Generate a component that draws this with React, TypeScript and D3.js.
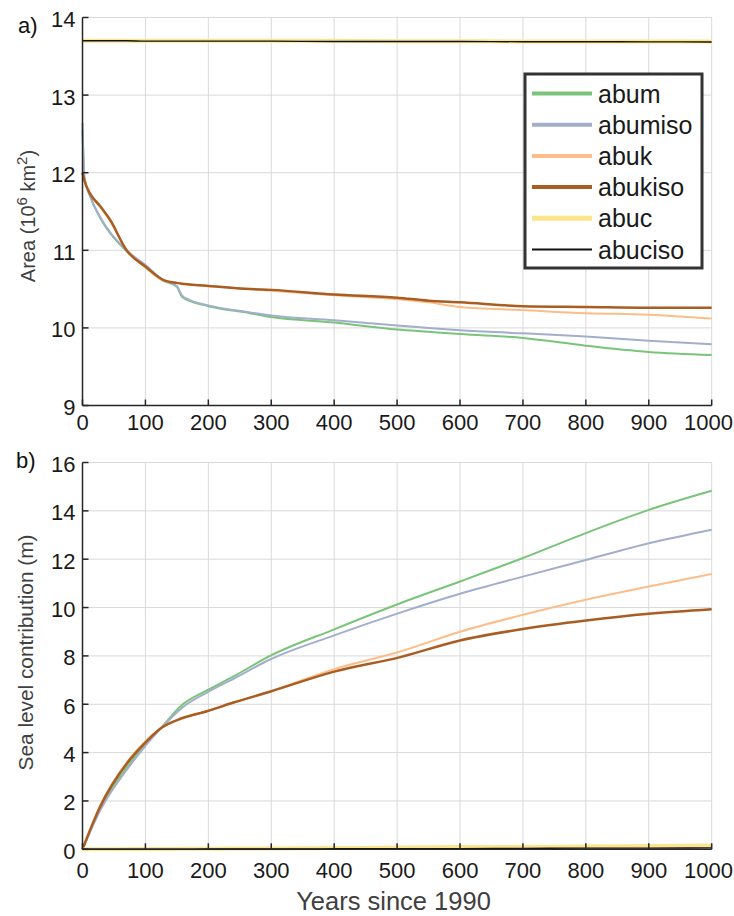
import React from "react";
import * as d3 from "d3";

const seriesNames = ["abum", "abumiso", "abuk", "abukiso", "abuc", "abuciso"];
const seriesColors = ["#7ac47a", "#a3aecb", "#fdbd88", "#a95d22", "#fde58c", "#111111"];
const seriesWidths = [2, 2, 2, 2.5, 4, 1.4];
const legendWidths = [4, 4, 4, 4, 5, 2];

const areaYears = [0, 3, 12, 28, 44, 70, 100, 128, 150, 158, 170, 200, 266, 300, 400, 500, 550, 600, 700, 800, 900, 1000];
const areaAbum = [12.55, 11.95, 11.7, 11.42, 11.22, 10.99, 10.8, 10.61, 10.53, 10.4, 10.35, 10.28, 10.19, 10.14, 10.07, 9.98, 9.95, 9.92, 9.87, 9.77, 9.69, 9.65];
const areaAbumiso = [12.64, 11.95, 11.7, 11.43, 11.23, 11.0, 10.81, 10.62, 10.54, 10.42, 10.36, 10.29, 10.2, 10.16, 10.1, 10.03, 10.0, 9.97, 9.93, 9.89, 9.835, 9.79];
const areaAbuk = [12.0, 11.9, 11.74, 11.56, 11.38, 11.01, 10.78, 10.61, 10.58, 10.57, 10.56, 10.54, 10.5, 10.48, 10.42, 10.37, 10.33, 10.27, 10.23, 10.19, 10.17, 10.12];
const areaAbukiso = [12.0, 11.9, 11.73, 11.57, 11.39, 11.0, 10.79, 10.62, 10.58, 10.57, 10.56, 10.54, 10.5, 10.49, 10.43, 10.39, 10.35, 10.33, 10.28, 10.27, 10.26, 10.26];
const areaAbuc = [13.7, 13.7, 13.7, 13.7, 13.7, 13.7, 13.7, 13.7, 13.7, 13.7, 13.7, 13.7, 13.7, 13.7, 13.7, 13.695, 13.695, 13.695, 13.69, 13.69, 13.69, 13.69];
const areaAbuciso = [13.7, 13.7, 13.7, 13.7, 13.7, 13.7, 13.695, 13.695, 13.695, 13.695, 13.695, 13.695, 13.695, 13.695, 13.69, 13.69, 13.69, 13.69, 13.688, 13.688, 13.686, 13.685];

const slYears = [0, 28, 75, 99, 123, 158, 199, 240, 298, 400, 505, 600, 700, 800, 900, 1000];
const slAbum = [0, 1.7, 3.55, 4.35, 4.98, 5.97, 6.59, 7.15, 8.0, 9.1, 10.18, 11.08, 12.05, 13.08, 14.04, 14.83];
const slAbumiso = [0, 1.6, 3.45, 4.25, 4.95, 5.85, 6.5, 7.05, 7.85, 8.85, 9.79, 10.57, 11.28, 11.97, 12.66, 13.22];
const slAbuk = [0, 1.8, 3.75, 4.45, 4.98, 5.42, 5.72, 6.07, 6.53, 7.45, 8.18, 9.0, 9.7, 10.32, 10.87, 11.39];
const slAbukiso = [0, 1.76, 3.7, 4.39, 4.98, 5.42, 5.72, 6.07, 6.52, 7.35, 7.95, 8.64, 9.11, 9.46, 9.74, 9.93];
const slAbuc = [0, 0, 0.01, 0.01, 0.01, 0.02, 0.02, 0.03, 0.03, 0.05, 0.07, 0.09, 0.1, 0.12, 0.14, 0.16];
const slAbuciso = [0, 0, 0, 0, 0, 0, 0.01, 0.01, 0.01, 0.02, 0.03, 0.03, 0.04, 0.05, 0.05, 0.06];

const xTicks = [0, 100, 200, 300, 400, 500, 600, 700, 800, 900, 1000];
const areaTicks = [9, 10, 11, 12, 13, 14];
const slTicks = [0, 2, 4, 6, 8, 10, 12, 14, 16];

const FONT = "Liberation Sans, Arial, Helvetica, sans-serif";

type PanelProps = {
  top: number;
  bottom: number;
  yDomain: [number, number];
  yTicks: number[];
  years: number[];
  values: number[][];
  tickBaseline: number;
};

const LEFT = 82.5;
const RIGHT = 711.7;
const SVG_W = 734;

function Panel({ top, bottom, yDomain, yTicks, years, values, tickBaseline }: PanelProps) {
  const x = d3.scaleLinear().domain([0, 1000]).range([LEFT, RIGHT]);
  const y = d3.scaleLinear().domain(yDomain).range([bottom, top]);
  const line = d3
    .line<number>()
    .x((_, i) => x(years[i]))
    .y((v) => y(v))
    .curve(d3.curveMonotoneX);
  return (
    <g>
      {xTicks.map((t) => (
        <line key={"gx" + t} x1={x(t)} x2={x(t)} y1={top} y2={bottom} stroke="#d9d9d9" strokeWidth={1} />
      ))}
      {yTicks.map((t) => (
        <line key={"gy" + t} x1={LEFT} x2={RIGHT} y1={y(t)} y2={y(t)} stroke="#d9d9d9" strokeWidth={1} />
      ))}
      {values.map((vals, i) => (
        <path
          key={"s" + i}
          d={line(vals) || ""}
          fill="none"
          stroke={seriesColors[i]}
          strokeWidth={seriesWidths[i]}
          strokeLinejoin="round"
        />
      ))}
      <line x1={LEFT} x2={LEFT} y1={top} y2={bottom} stroke="#262626" strokeWidth={1.5} />
      <line x1={LEFT} x2={RIGHT} y1={bottom} y2={bottom} stroke="#262626" strokeWidth={1.5} />
      {yTicks.map((t) => (
        <g key={"ty" + t}>
          <line x1={LEFT} x2={LEFT + 6} y1={y(t)} y2={y(t)} stroke="#262626" strokeWidth={1.5} />
          <text x={75.5} y={y(t) + 9.5} textAnchor="end" fontSize={22} fill="#1a1a1a" fontFamily={FONT}>
            {t}
          </text>
        </g>
      ))}
      {xTicks.map((t, i) => {
        const last = i === xTicks.length - 1;
        return (
          <g key={"tx" + t}>
            <line x1={x(t)} x2={x(t)} y1={bottom} y2={bottom - 6} stroke="#262626" strokeWidth={1.5} />
            <text
              x={last ? SVG_W - 1 : x(t)}
              y={tickBaseline}
              textAnchor={last ? "end" : "middle"}
              fontSize={22}
              fill="#1a1a1a"
              fontFamily={FONT}
            >
              {t}
            </text>
          </g>
        );
      })}
    </g>
  );
}

export default function App() {
  const areaValues = [areaAbum, areaAbumiso, areaAbuk, areaAbukiso, areaAbuc, areaAbuciso];
  const slValues = [slAbum, slAbumiso, slAbuk, slAbukiso, slAbuc, slAbuciso];
  const legX = 525;
  const legY = 74;
  const legW = 177;
  const legH = 194;
  return (
    <svg
      width={SVG_W}
      height={916}
      style={{ position: "absolute", left: 0, top: 0, background: "#fff" }}
      fontFamily={FONT}
    >
      <rect x={0} y={0} width={SVG_W} height={916} fill="#fff" />
      <Panel
        top={17.5}
        bottom={405.5}
        yDomain={[9, 14]}
        yTicks={areaTicks}
        years={areaYears}
        values={areaValues}
        tickBaseline={430}
      />
      <Panel
        top={462.5}
        bottom={849.3}
        yDomain={[0, 16]}
        yTicks={slTicks}
        years={slYears}
        values={slValues}
        tickBaseline={877.5}
      />
      <text x={18} y={33} fontSize={22} fill="#111">a)</text>
      <text x={16} y={468} fontSize={22} fill="#111">b)</text>
      <text
        transform="translate(35,216) rotate(-90)"
        textAnchor="middle"
        fontSize={20}
        fill="#404040"
      >
        Area (10<tspan baselineShift="super" fontSize={15}>6</tspan>
        <tspan> km</tspan>
        <tspan baselineShift="super" fontSize={15}>2</tspan>
        <tspan>)</tspan>
      </text>
      <text
        transform="translate(33,652.5) rotate(-90)"
        textAnchor="middle"
        fontSize={20.8}
        fill="#404040"
      >
        Sea level contribution (m)
      </text>
      <text x={393.5} y={910} textAnchor="middle" fontSize={25.5} fill="#404040">
        Years since 1990
      </text>
      <g>
        <rect x={legX} y={legY} width={legW} height={legH} fill="#fff" stroke="#333" strokeWidth={3} />
        {seriesNames.map((n, i) => {
          const cy = legY + 19.5 + i * 31.2;
          return (
            <g key={n}>
              <line x1={532} x2={592} y1={cy} y2={cy} stroke={seriesColors[i]} strokeWidth={legendWidths[i]} />
              <text x={598} y={cy + 9} fontSize={25} fill="#1a1a1a">
                {n}
              </text>
            </g>
          );
        })}
      </g>
    </svg>
  );
}
